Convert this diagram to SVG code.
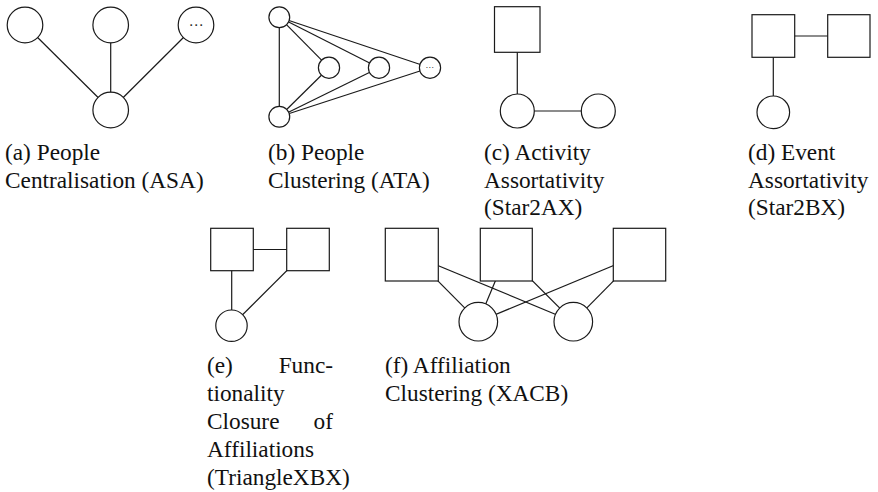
<svg xmlns="http://www.w3.org/2000/svg" width="878" height="492" viewBox="0 0 878 492">
  <style>
    .edge { stroke: #1a1a1a; stroke-width: 1.2; fill: none; }
    .node { stroke: #1a1a1a; stroke-width: 1.2; fill: #fff; }
    .dots { fill: #333; text-anchor: middle; dominant-baseline: central; }
    .cap { font-size: 23.3px; fill: #111; }
  </style>
  <rect width="878" height="492" fill="#fff"/>

  <!-- connectors: drawn centre to centre, nodes on top hide the inner parts -->
  <g id="connectors" class="edge">
    <!-- (a) -->
    <line x1="25" y1="25" x2="110.7" y2="110"/>
    <line x1="110.7" y1="25" x2="110.7" y2="110"/>
    <line x1="196" y1="25" x2="110.7" y2="110"/>
    <!-- (b) -->
    <line x1="279.3" y1="17.3" x2="279.3" y2="116.7"/>
    <line x1="279.3" y1="17.3" x2="329" y2="67.7"/>
    <line x1="279.3" y1="17.3" x2="379" y2="67.7"/>
    <line x1="279.3" y1="17.3" x2="430" y2="67.7"/>
    <line x1="279.3" y1="116.7" x2="329" y2="67.7"/>
    <line x1="279.3" y1="116.7" x2="379" y2="67.7"/>
    <line x1="279.3" y1="116.7" x2="430" y2="67.7"/>
    <!-- (c) -->
    <line x1="517.3" y1="29.5" x2="517.3" y2="111"/>
    <line x1="517.3" y1="111" x2="598.3" y2="111"/>
    <!-- (d) -->
    <line x1="773.3" y1="36" x2="848.8" y2="36"/>
    <line x1="773.3" y1="36" x2="773.3" y2="112.3"/>
    <!-- (e) -->
    <line x1="232" y1="249.5" x2="308" y2="249.5"/>
    <line x1="231.7" y1="249.5" x2="231.7" y2="325.7"/>
    <line x1="308" y1="249.5" x2="231.5" y2="325.7"/>
    <!-- (f) -->
    <line x1="411.8" y1="254.7" x2="478.3" y2="321.7"/>
    <line x1="411.8" y1="254.7" x2="573.3" y2="321.7"/>
    <line x1="506.3" y1="254.7" x2="478.3" y2="321.7"/>
    <line x1="506.3" y1="254.7" x2="573.3" y2="321.7"/>
    <line x1="639.5" y1="254.7" x2="478.3" y2="321.7"/>
    <line x1="639.5" y1="254.7" x2="573.3" y2="321.7"/>
  </g>

  <!-- (a) People Centralisation -->
  <g id="a-nodes">
    <circle class="node" cx="25" cy="25" r="17.8"/>
    <circle class="node" cx="110.7" cy="25" r="17.8"/>
    <circle class="node" cx="196" cy="25" r="17.8"/>
    <text class="dots" x="196" y="25" font-size="15" font-family="'DejaVu Sans'">⋯</text>
    <circle class="node" cx="110.7" cy="110" r="17.8"/>
  </g>

  <!-- (b) People Clustering -->
  <g id="b-nodes">
    <circle class="node" cx="279.3" cy="17.3" r="10.4"/>
    <circle class="node" cx="279.3" cy="116.7" r="10.4"/>
    <circle class="node" cx="329" cy="67.7" r="10.6"/>
    <circle class="node" cx="379" cy="67.7" r="10.6"/>
    <circle class="node" cx="430" cy="67.7" r="10.6"/>
    <text class="dots" x="429.5" y="67.7" font-size="8" font-family="'DejaVu Sans'">⋯</text>
  </g>

  <!-- (c) Activity Assortativity -->
  <g id="c-nodes">
    <rect class="node" x="494.5" y="6.7" width="45.5" height="45.6"/>
    <circle class="node" cx="517.3" cy="111" r="17"/>
    <circle class="node" cx="598.3" cy="111" r="17"/>
  </g>

  <!-- (d) Event Assortativity -->
  <g id="d-nodes">
    <rect class="node" x="752" y="14.7" width="42.7" height="42.6"/>
    <rect class="node" x="827.7" y="14.7" width="42.3" height="42.6"/>
    <circle class="node" cx="773.3" cy="112.3" r="16.3"/>
  </g>

  <!-- (e) Functionality Closure of Affiliations -->
  <g id="e-nodes">
    <rect class="node" x="210.7" y="228.3" width="42.6" height="42.4"/>
    <rect class="node" x="286.7" y="228.3" width="42.6" height="42.4"/>
    <circle class="node" cx="231.5" cy="325.7" r="15.7"/>
  </g>

  <!-- (f) Affiliation Clustering -->
  <g id="f-nodes">
    <rect class="node" x="385.3" y="228.3" width="53" height="52.7"/>
    <rect class="node" x="480.3" y="228.3" width="52" height="52.7"/>
    <rect class="node" x="613.3" y="228.3" width="52.4" height="52.7"/>
    <circle class="node" cx="478.3" cy="321.7" r="19.3"/>
    <circle class="node" cx="573.3" cy="321.7" r="19.3"/>
  </g>

  <!-- sub-figure captions -->
  <g id="captions">
    <text class="cap" font-family="'Liberation Serif'" x="5" y="160">(a) People</text>
    <text class="cap" font-family="'Liberation Serif'" x="5" y="188">Centralisation (ASA)</text>
    <text class="cap" font-family="'Liberation Serif'" x="268" y="160">(b) People</text>
    <text class="cap" font-family="'Liberation Serif'" x="268" y="188">Clustering (ATA)</text>
    <text class="cap" font-family="'Liberation Serif'" x="484" y="160">(c) Activity</text>
    <text class="cap" font-family="'Liberation Serif'" x="484" y="187.5">Assortativity</text>
    <text class="cap" font-family="'Liberation Serif'" x="484" y="215">(Star2AX)</text>
    <text class="cap" font-family="'Liberation Serif'" x="748" y="160">(d) Event</text>
    <text class="cap" font-family="'Liberation Serif'" x="748" y="187.5">Assortativity</text>
    <text class="cap" font-family="'Liberation Serif'" x="748" y="215">(Star2BX)</text>
    <text class="cap" font-family="'Liberation Serif'" x="207" y="373">(e)</text>
    <text class="cap" font-family="'Liberation Serif'" x="333" y="373" text-anchor="end">Func-</text>
    <text class="cap" font-family="'Liberation Serif'" x="207" y="401">tionality</text>
    <text class="cap" font-family="'Liberation Serif'" x="207" y="429">Closure</text>
    <text class="cap" font-family="'Liberation Serif'" x="333" y="429" text-anchor="end">of</text>
    <text class="cap" font-family="'Liberation Serif'" x="207" y="457">Affiliations</text>
    <text class="cap" font-family="'Liberation Serif'" x="207" y="485">(TriangleXBX)</text>
    <text class="cap" font-family="'Liberation Serif'" x="385" y="373">(f) Affiliation</text>
    <text class="cap" font-family="'Liberation Serif'" x="385" y="401">Clustering (XACB)</text>
  </g>
</svg>
